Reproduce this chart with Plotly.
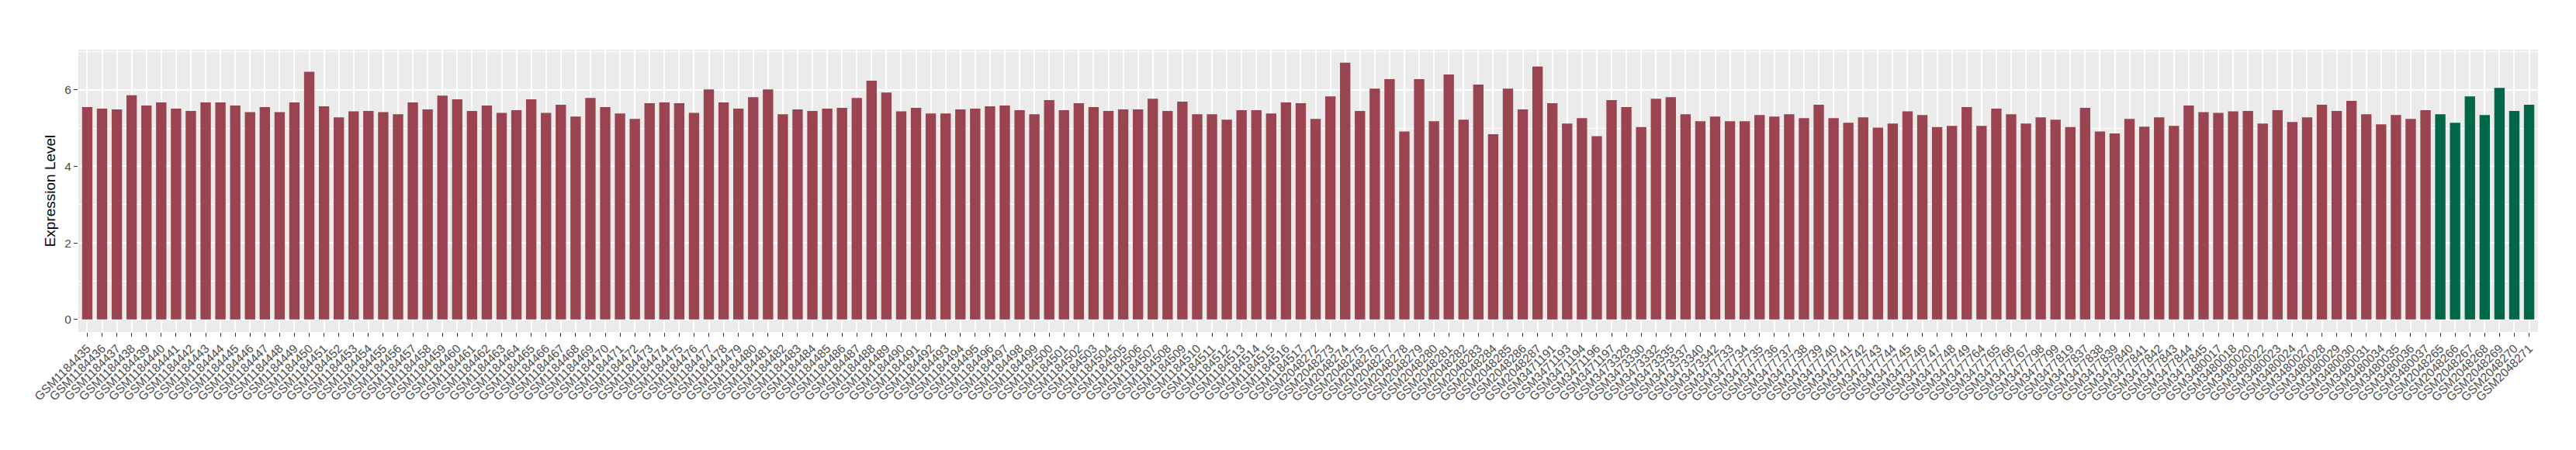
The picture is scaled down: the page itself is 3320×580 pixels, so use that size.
import plotly.graph_objects as go

samples = [
    "GSM1184435", "GSM1184436", "GSM1184437", "GSM1184438", "GSM1184439", "GSM1184440", "GSM1184441", "GSM1184442",
    "GSM1184443", "GSM1184444", "GSM1184445", "GSM1184446", "GSM1184447", "GSM1184448", "GSM1184449", "GSM1184450",
    "GSM1184451", "GSM1184452", "GSM1184453", "GSM1184454", "GSM1184455", "GSM1184456", "GSM1184457", "GSM1184458",
    "GSM1184459", "GSM1184460", "GSM1184461", "GSM1184462", "GSM1184463", "GSM1184464", "GSM1184465", "GSM1184466",
    "GSM1184467", "GSM1184468", "GSM1184469", "GSM1184470", "GSM1184471", "GSM1184472", "GSM1184473", "GSM1184474",
    "GSM1184475", "GSM1184476", "GSM1184477", "GSM1184478", "GSM1184479", "GSM1184480", "GSM1184481", "GSM1184482",
    "GSM1184483", "GSM1184484", "GSM1184485", "GSM1184486", "GSM1184487", "GSM1184488", "GSM1184489", "GSM1184490",
    "GSM1184491", "GSM1184492", "GSM1184493", "GSM1184494", "GSM1184495", "GSM1184496", "GSM1184497", "GSM1184498",
    "GSM1184499", "GSM1184500", "GSM1184501", "GSM1184502", "GSM1184503", "GSM1184504", "GSM1184505", "GSM1184506",
    "GSM1184507", "GSM1184508", "GSM1184509", "GSM1184510", "GSM1184511", "GSM1184512", "GSM1184513", "GSM1184514",
    "GSM1184515", "GSM1184516", "GSM1184517",
    "GSM2048272", "GSM2048273", "GSM2048274", "GSM2048275", "GSM2048276", "GSM2048277", "GSM2048278", "GSM2048279",
    "GSM2048280", "GSM2048281", "GSM2048282", "GSM2048283", "GSM2048284", "GSM2048285", "GSM2048286", "GSM2048287",
    "GSM3471191", "GSM3471193", "GSM3471194", "GSM3471196", "GSM3471197",
    "GSM3473328", "GSM3473330", "GSM3473332", "GSM3473335", "GSM3473337", "GSM3473340", "GSM3473342",
    "GSM3477733", "GSM3477734", "GSM3477735", "GSM3477736", "GSM3477737", "GSM3477738", "GSM3477739", "GSM3477740",
    "GSM3477741", "GSM3477742", "GSM3477743", "GSM3477744", "GSM3477745", "GSM3477746", "GSM3477747", "GSM3477748",
    "GSM3477749", "GSM3477764", "GSM3477765", "GSM3477766", "GSM3477767", "GSM3477798", "GSM3477799", "GSM3477819",
    "GSM3477837", "GSM3477838", "GSM3477839", "GSM3477840", "GSM3477841", "GSM3477842", "GSM3477843", "GSM3477844",
    "GSM3477845",
    "GSM3480017", "GSM3480018", "GSM3480020", "GSM3480022", "GSM3480023", "GSM3480024", "GSM3480027", "GSM3480028",
    "GSM3480029", "GSM3480030", "GSM3480031", "GSM3480034", "GSM3480035", "GSM3480036", "GSM3480037",
    "GSM2048265", "GSM2048266", "GSM2048267", "GSM2048268", "GSM2048269", "GSM2048270", "GSM2048271",
]

expression = [
    5.55, 5.51, 5.49, 5.86, 5.59, 5.67, 5.51, 5.45, 5.67, 5.67, 5.59,
    5.42, 5.55, 5.42, 5.67, 6.47, 5.57, 5.28, 5.44, 5.45, 5.42, 5.36, 5.67, 5.49, 5.85,
    5.75, 5.45, 5.59, 5.40, 5.47, 5.75, 5.40, 5.61, 5.30, 5.79, 5.55, 5.38, 5.24, 5.65, 5.67,
    5.65, 5.40, 6.01, 5.67, 5.51, 5.81, 6.01, 5.36, 5.49, 5.45, 5.51, 5.53, 5.79, 6.24, 5.93,
    5.44, 5.53, 5.38, 5.38, 5.49, 5.51, 5.57, 5.59, 5.47, 5.36, 5.73, 5.47, 5.65, 5.55,
    5.45, 5.49, 5.49, 5.77, 5.45, 5.69, 5.36, 5.36, 5.22, 5.47, 5.47, 5.38, 5.67, 5.65, 5.24,
    5.83, 6.71, 5.45, 6.03, 6.28, 4.91, 6.28, 5.18, 6.40, 5.22, 6.14, 4.84, 6.03, 5.49, 6.61,
    5.65, 5.12, 5.26, 4.79, 5.73, 5.55, 5.03, 5.77, 5.81, 5.36, 5.18, 5.30, 5.18, 5.18,
    5.34, 5.30, 5.36, 5.26, 5.61, 5.26, 5.14, 5.28, 5.01, 5.12, 5.44, 5.34, 5.03, 5.06, 5.55,
    5.06, 5.51, 5.36, 5.12, 5.28, 5.22, 5.03, 5.53, 4.91, 4.86, 5.24, 5.04, 5.28, 5.06, 5.59,
    5.42, 5.40, 5.44, 5.45, 5.12, 5.47, 5.16, 5.28, 5.61, 5.45, 5.71, 5.36, 5.10, 5.34, 5.24, 5.47,
    5.36, 5.14, 5.83, 5.34, 6.05, 5.45, 5.61,
]

groups = ["tumor"] * 159 + ["normal"] * 7
group_colors = {"tumor": "#9A4351", "normal": "#006849"}
y_ticks = [0, 2, 4, 6]

fig = go.Figure()
fig.add_trace(go.Bar(
    x=samples,
    y=expression,
    marker=dict(color=[group_colors[g] for g in groups], line=dict(width=0)),
    width=0.7,
    showlegend=False,
))

font_family = "Liberation Sans, Arial, Helvetica, sans-serif"

fig.update_layout(
    width=3320,
    height=580,
    margin=dict(l=93, r=57, t=56, b=160),
    paper_bgcolor="white",
    plot_bgcolor="#EBEBEB",
    font=dict(family=font_family, color="#4D4D4D"),
    bargap=0.3,
    xaxis=dict(
        type="category",
        categoryorder="array",
        categoryarray=samples,
        range=[-0.6, 165.6],
        tickangle=-45,
        tickfont=dict(size=15.5, color="#4D4D4D", family=font_family),
        ticks="outside",
        ticklen=5,
        tickwidth=1,
        tickcolor="#333333",
        showgrid=True,
        gridcolor="white",
        gridwidth=1.5,
        zeroline=False,
        showline=False,
    ),
    yaxis=dict(
        range=[-0.33, 7.05],
        tickvals=y_ticks,
        ticktext=[str(t) for t in y_ticks],
        tickfont=dict(size=15.5, color="#4D4D4D", family=font_family),
        ticks="outside",
        ticklen=5,
        tickwidth=1,
        tickcolor="#333333",
        showgrid=True,
        gridcolor="white",
        gridwidth=1.5,
        minor=dict(dtick=1, tick0=1, showgrid=True, gridcolor="white", gridwidth=0.7, ticks=""),
        zeroline=False,
        showline=False,
        title=dict(text="Expression Level", font=dict(size=19, color="black", family=font_family), standoff=6),
    ),
)

fig.write_html("out.html")
